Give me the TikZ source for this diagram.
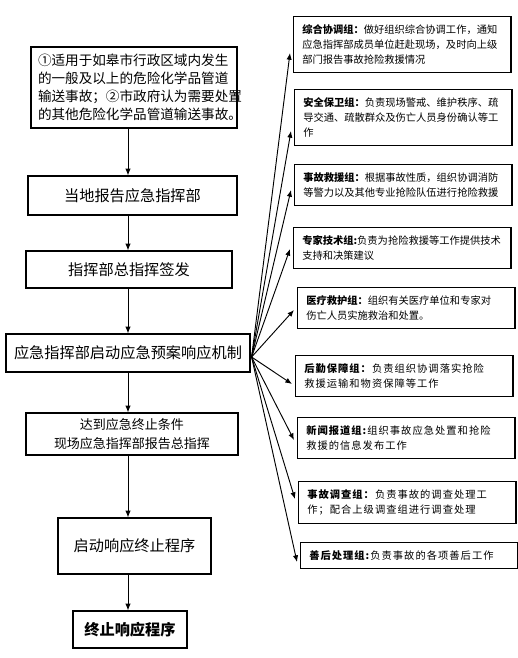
\documentclass[tikz,border=0pt]{standalone}
\usepackage{fontspec}
\setmainfont{Noto Sans CJK SC}
\usetikzlibrary{arrows.meta,calc}
\newcommand{\widecjk}{\addfontfeatures{LetterSpace=10}}

\begin{document}
\begin{tikzpicture}[x=0.75pt, y=-0.75pt,
  stepbox/.style={draw, line width=0.9pt, inner sep=0pt, align=center,
    font=\fontsize{11.4}{14}\selectfont},
  groupbox/.style={draw, line width=0.9pt, anchor=north west, inner xsep=6.5pt,
    inner ysep=6pt, text width=150pt, align=left,
    font=\fontsize{7.7}{11.25}\selectfont},
  arr/.style={-{Latex[length=5pt,width=4pt]}, line width=0.7pt}]
  \useasboundingbox (0,0) rectangle (518,658);

  \coordinate (spine) at (128,0);

  \node[stepbox, minimum width=154.5pt, minimum height=60.75pt, text width=144pt,
    align=left, font=\fontsize{10.2}{13.5}\selectfont] (scope) at (134,87.5)
    {①适用于如皋市行政区域内发生\\
     的一般及以上的危险化学品管道\\
     输送事故；②市政府认为需要处置\\
     的其他危险化学品管道输送事故。};
  \node[stepbox, minimum width=156.75pt, minimum height=29.25pt] (report) at (132.5,195.5)
    {当地报告应急指挥部};
  \node[stepbox, minimum width=154.5pt, minimum height=27.75pt] (sign) at (129,269.5)
    {指挥部总指挥签发};
  \node[stepbox, minimum width=183pt, minimum height=28.5pt] (launch) at (128,353)
    {应急指挥部启动应急预案响应机制};
  \node[stepbox, minimum width=159pt, minimum height=31.5pt,
    font=\fontsize{9.75}{14}\selectfont] (endcond) at (132,434)
    {达到应急终止条件\\现场应急指挥部报告总指挥};
  \node[stepbox, minimum width=114.75pt, minimum height=42pt] (endproc) at (134.5,546)
    {启动响应终止程序};
  \node[stepbox, minimum width=85.5pt, minimum height=27.75pt,
    font=\fontsize{11.4}{14}\selectfont\bfseries] (stop) at (130,629.5)
    {终止响应程序};

  \draw[arr] (scope.south -| spine) -- (report.north -| spine);
  \draw[arr] (report.south -| spine) -- (sign.north -| spine);
  \draw[arr] (sign.south -| spine) -- (launch.north -| spine);
  \draw[arr] (launch.south -| spine) -- (endcond.north -| spine);
  \draw[arr] (endcond.south -| spine) -- (endproc.north -| spine);
  \draw[arr] (endproc.south -| spine) -- (stop.north -| spine);

  \node[groupbox] (g1) at (293,16)
    {\textbf{综合协调组：}做好组织综合协调工作，通知\\
     应急指挥部成员单位赶赴现场，及时向上级\\
     部门报告事故抢险救援情况};
  \node[groupbox] (g2) at (294,89)
    {\textbf{安全保卫组：}负责现场警戒、维护秩序、疏\\
     导交通、疏散群众及伤亡人员身份确认等工\\
     作};
  \node[groupbox] (g3) at (294,164)
    {\textbf{事故救援组：}根据事故性质，组织协调消防\\
     等警力以及其他专业抢险队伍进行抢险救援};
  \node[groupbox] (g4) at (293,227)
    {\textbf{专家技术组:}负责为抢险救援等工作提供技术\\
     支持和决策建议};
  \node[groupbox] (g5) at (297,287)
    {\textbf{医疗救护组：}组织有关医疗单位和专家对\\
     伤亡人员实施救治和处置。};
  \node[groupbox, font=\fontsize{7.7}{11.25}\selectfont\widecjk] (g6) at (295,355)
    {\textbf{后勤保障组：}负责组织协调落实抢险\\
     救援运输和物资保障等工作};
  \node[groupbox, font=\fontsize{7.7}{11.25}\selectfont\widecjk] (g7) at (297,417)
    {\textbf{新闻报道组:}组织事故应急处置和抢险\\
     救援的信息发布工作};
  \node[groupbox, font=\fontsize{7.7}{11.25}\selectfont\widecjk] (g8) at (298,481)
    {\textbf{事故调查组：}负责事故的调查处理工\\
     作；配合上级调查组进行调查处理};
  \node[groupbox, font=\fontsize{7.7}{11.25}\selectfont\widecjk] (g9) at (300,542)
    {\textbf{善后处理组:}负责事故的各项善后工作};

  \coordinate (hub) at ($(launch.east)+(1,4)$);
  \foreach \g/\dy in {g1/37, g2/42, g3/26, g4/22, g5/23, g6/29, g7/23, g8/18, g9/20}
  {
    \draw[arr] (hub) -- ($(\g.north west)+(-3,\dy)$);
  }
\end{tikzpicture}
\end{document}
